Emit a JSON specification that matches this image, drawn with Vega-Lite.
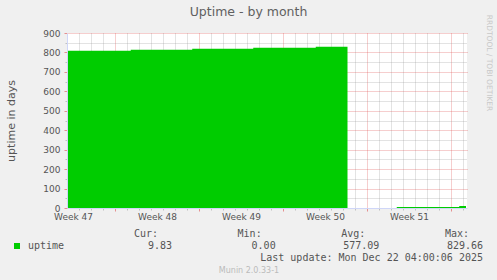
{
  "$schema": "https://vega.github.io/schema/vega-lite/v6.json",
  "width": 400,
  "height": 175,
  "autosize": {"type": "none"},
  "padding": {"left": 67, "top": 33, "right": 30, "bottom": 72},
  "background": "#F0F0F0",
  "config": {"view": {"fill": "white", "stroke": null}, "font": "DejaVu Sans"},
  "title": {"text": "Uptime - by month", "font": "DejaVu Sans", "fontSize": 12.5, "fontWeight": "normal", "color": "#606060", "anchor": "middle", "frame": "group", "dx": -18.5, "dy": 14, "baseline": "alphabetic", "offset": 0},
  "datasets": {
    "uptime": [
      {"time": "2025-11-18T12:00:00Z", "uptime": 809.0, "series": "uptime"},
      {"time": "2025-11-24T07:30:00Z", "uptime": 814.4, "series": "uptime"},
      {"time": "2025-11-29T10:30:00Z", "uptime": 819.6, "series": "uptime"},
      {"time": "2025-12-04T12:30:00Z", "uptime": 824.5, "series": "uptime"},
      {"time": "2025-12-09T17:30:00Z", "uptime": 829.66, "series": "uptime"},
      {"time": "2025-12-12T09:00:00Z", "uptime": 0, "series": "uptime"},
      {"time": "2025-12-16T11:30:00Z", "uptime": 4.6, "series": "uptime"},
      {"time": "2025-12-21T16:30:00Z", "uptime": 9.83, "series": "uptime"},
      {"time": "2025-12-22T06:00:00Z", "uptime": 9.83, "series": "uptime"}
    ],
    "footer": [
      {"row": "head", "col": "Cur", "text": "Cur:"},
      {"row": "head", "col": "Min", "text": "Min:"},
      {"row": "head", "col": "Avg", "text": "Avg:"},
      {"row": "head", "col": "Max", "text": "Max:"},
      {"row": "value", "col": "Cur", "text": "9.83"},
      {"row": "value", "col": "Min", "text": "0.00"},
      {"row": "value", "col": "Avg", "text": "577.09"},
      {"row": "value", "col": "Max", "text": "829.66"},
      {"row": "update", "col": "Max", "text": "Last update: Mon Dec 22 04:00:06 2025"}
    ]
  },
  "layer": [
    {
      "data": {"name": "uptime"},
      "mark": {"type": "area", "interpolate": "step-after", "clip": true},
      "encoding": {
        "x": {
          "field": "time", "type": "temporal",
          "scale": {"type": "utc", "domain": [1763510400000, 1766390400000], "nice": false},
          "axis": {
            "orient": "bottom",
            "values": [1763553600000, 1764158400000, 1764763200000, 1765368000000, 1765972800000],
            "format": "Week %V",
            "labelFont": "DejaVu Sans", "labelFontSize": 9, "labelColor": "#555555",
            "labelFlush": false, "labelOverlap": false, "labelPadding": 1.5,
            "tickSize": 3, "tickOpacity": 0, "grid": false,
            "domainColor": "#CFD6F8", "zindex": 1,
            "title": "Munin 2.0.33-1", "titleFont": "DejaVu Sans", "titleFontSize": 8, "titleColor": "#BBBBBB", "titleFontWeight": "normal",
            "titleX": 181.5, "titleY": 64, "titleAlign": "center", "titleBaseline": "alphabetic"
          }
        },
        "y": {
          "field": "uptime", "type": "quantitative",
          "scale": {"domain": [0, 900], "nice": false, "zero": false},
          "axis": {
            "orient": "left",
            "values": [0, 100, 200, 300, 400, 500, 600, 700, 800, 900],
            "labelFont": "DejaVu Sans", "labelFontSize": 9, "labelColor": "#555555", "labelPadding": 4,
            "tickSize": 3, "tickColor": "#DE4F4F", "tickOpacity": 0.6,
            "grid": false,
            "domainColor": "#CFD6F8", "zindex": 1,
            "title": "uptime in days", "titleFont": "DejaVu Sans", "titleFontSize": 11, "titleColor": "#555555", "titleFontWeight": "normal",
            "titleAngle": 270, "titleX": -56, "titleY": 87.5, "titleAlign": "center", "titleBaseline": "middle"
          }
        },
        "color": {
          "field": "series", "type": "nominal",
          "scale": {"range": ["#00CC00"]},
          "legend": {
            "orient": "none", "legendX": -55, "legendY": 208, "title": null,
            "symbolType": "square", "symbolSize": 36, "symbolStrokeWidth": 0,
            "labelFont": "DejaVu Sans Mono", "labelFontSize": 10, "labelColor": "#555555", "labelOffset": 6,
            "padding": 0, "rowPadding": 0
          }
        }
      }
    },
    {
      "data": {"name": "uptime"},
      "mark": {"type": "point", "opacity": 0},
      "encoding": {
        "x": {
          "field": "time", "type": "temporal",
          "scale": {"type": "utc", "domain": [1763510400000, 1766390400000], "nice": false},
          "axis": {
            "orient": "bottom",
            "values": [1763596800000, 1763683200000, 1763769600000, 1763942400000, 1764028800000, 1764115200000, 1764201600000, 1764288000000, 1764374400000, 1764547200000, 1764633600000, 1764720000000, 1764806400000, 1764892800000, 1764979200000, 1765152000000, 1765238400000, 1765324800000, 1765411200000, 1765497600000, 1765584000000, 1765756800000, 1765843200000, 1765929600000, 1766016000000, 1766102400000, 1766188800000, 1766361600000],
            "labels": false, "domain": false, "title": null,
            "tickSize": 2, "tickColor": "#8F8F8F", "tickOpacity": 0.5,
            "grid": true, "gridColor": "#8F8F8F", "gridOpacity": 0.5, "gridDash": [1, 1], "zindex": 0
          }
        },
        "y": {
          "field": "uptime", "type": "quantitative",
          "scale": {"domain": [0, 900], "nice": false, "zero": false},
          "axis": {
            "orient": "left",
            "values": [50, 150, 250, 350, 450, 550, 650, 750, 850],
            "labels": false, "domain": false, "title": null,
            "tickSize": 2, "tickColor": "#8F8F8F", "tickOpacity": 0.5,
            "grid": true, "gridColor": "#8F8F8F", "gridOpacity": 0.5, "gridDash": [1, 1], "zindex": 0
          }
        }
      }
    },
    {
      "data": {"name": "uptime"},
      "mark": {"type": "point", "opacity": 0},
      "encoding": {
        "x": {
          "field": "time", "type": "temporal",
          "scale": {"type": "utc", "domain": [1763510400000, 1766390400000], "nice": false},
          "axis": {
            "orient": "bottom",
            "values": [1763856000000, 1764460800000, 1765065600000, 1765670400000, 1766275200000],
            "labels": false, "domain": false, "title": null,
            "tickSize": 3, "tickColor": "#DE4F4F", "tickOpacity": 0.6,
            "grid": true, "gridColor": "#DE4F4F", "gridOpacity": 0.55, "gridDash": [1, 1], "zindex": 0
          }
        },
        "y": {
          "field": "uptime", "type": "quantitative",
          "scale": {"domain": [0, 900], "nice": false, "zero": false},
          "axis": {
            "orient": "right",
            "values": [100, 200, 300, 400, 500, 600, 700, 800, 900],
            "labels": false, "domain": false, "ticks": false,
            "grid": true, "gridColor": "#DE4F4F", "gridOpacity": 0.55, "gridDash": [1, 1], "zindex": 0,
            "title": "RRDTOOL / TOBI OETIKER", "titleFont": "DejaVu Sans", "titleFontSize": 7.5, "titleColor": "#C8C8C8", "titleFontWeight": "normal",
            "titleAngle": 90, "titleX": 21, "titleY": 29.5, "titleAlign": "center", "titleBaseline": "middle"
          }
        }
      }
    },
    {
      "data": {"name": "footer"},
      "transform": [{"filter": "datum.row === 'head'"}],
      "mark": {"type": "text", "align": "right", "baseline": "alphabetic", "dx": -14, "font": "DejaVu Sans Mono", "fontSize": 10, "color": "#555555"},
      "encoding": {
        "x": {"field": "col", "type": "nominal", "scale": {"type": "point", "domain": ["Cur", "Min", "Avg", "Max"], "range": [105, 416], "padding": 0}, "axis": null},
        "y": {"field": "row", "type": "nominal", "scale": {"type": "point", "domain": ["head", "value", "update"], "range": [204, 228], "padding": 0}, "axis": null},
        "text": {"field": "text"}
      }
    },
    {
      "data": {"name": "footer"},
      "transform": [{"filter": "datum.row !== 'head'"}],
      "mark": {"type": "text", "align": "right", "baseline": "alphabetic", "font": "DejaVu Sans Mono", "fontSize": 10, "color": "#555555"},
      "encoding": {
        "x": {"field": "col", "type": "nominal", "scale": {"type": "point", "domain": ["Cur", "Min", "Avg", "Max"], "range": [105, 416], "padding": 0}, "axis": null},
        "y": {"field": "row", "type": "nominal", "scale": {"type": "point", "domain": ["head", "value", "update"], "range": [204, 228], "padding": 0}, "axis": null},
        "text": {"field": "text"}
      }
    }
  ],
  "resolve": {"scale": {"x": "independent", "y": "independent"}}
}
